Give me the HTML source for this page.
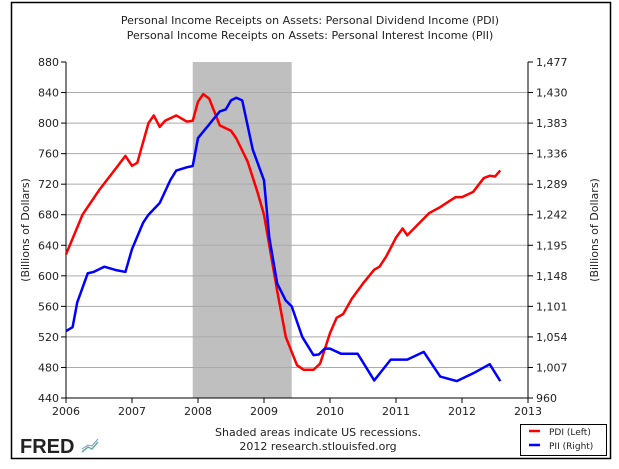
<!DOCTYPE html>
<html><head><meta charset="utf-8"><style>
body{margin:0;background:#fff;}
svg{display:block;font-family:"DejaVu Sans","Liberation Sans",sans-serif;}
</style></head><body>
<svg id="c" width="619" height="469">
<rect x="11.5" y="2.5" width="599" height="456" fill="none" stroke="#000" stroke-width="1.5"/>
<text x="310" y="24" font-size="11" text-anchor="middle" fill="#222">Personal Income Receipts on Assets: Personal Dividend Income (PDI)</text>
<text x="310" y="39" font-size="11" text-anchor="middle" fill="#222">Personal Income Receipts on Assets: Personal Interest Income (PII)</text>
<g id="grid"></g>
<g id="marks"></g>
<text transform="translate(29,230) rotate(-90)" font-size="11" text-anchor="middle" fill="#222">(Billions of Dollars)</text>
<text transform="translate(598,230) rotate(-90)" font-size="11" text-anchor="middle" fill="#222">(Billions of Dollars)</text>
<text x="20" y="453" font-size="20" font-weight="bold" fill="#222" font-family="Liberation Sans,sans-serif">FRED</text>
<polyline points="82,452 88,447 92,449 98,442" fill="none" stroke="#6a9" stroke-width="1.5"/>
<polyline points="82,449 88,445 92,446 98,439" fill="none" stroke="#79c" stroke-width="1"/>
<text x="318" y="436" font-size="11" text-anchor="middle" fill="#222">Shaded areas indicate US recessions.</text>
<text x="318" y="450" font-size="11" text-anchor="middle" fill="#222">2012 research.stlouisfed.org</text>
<g>
<rect x="520.5" y="424.5" width="86" height="31" fill="#fff" stroke="#000"/>
<line x1="529" y1="431" x2="540" y2="431" stroke="#f00" stroke-width="2.5"/>
<text x="549" y="435" font-size="9" fill="#222">PDI (Left)</text>
<line x1="529" y1="445" x2="540" y2="445" stroke="#00f" stroke-width="2.5"/>
<text x="549" y="449" font-size="9" fill="#222">PII (Right)</text>
</g>
</svg>
<script>
const pdiT=[2006.0,2006.25,2006.5,2006.75,2006.9,2007.0,2007.08,2007.25,2007.33,2007.42,2007.5,2007.67,2007.83,2007.92,2008.0,2008.08,2008.17,2008.33,2008.5,2008.58,2008.75,2008.9,2009.0,2009.1,2009.2,2009.33,2009.5,2009.6,2009.75,2009.85,2010.0,2010.1,2010.2,2010.33,2010.5,2010.67,2010.75,2010.85,2011.0,2011.1,2011.17,2011.33,2011.5,2011.67,2011.9,2012.0,2012.17,2012.33,2012.42,2012.5,2012.58];
const pdiV=[628,680,712,740,757,744,748,800,810,795,803,810,802,803,828,838,832,797,790,780,750,710,680,630,580,520,483,477,477,485,525,545,550,570,590,608,612,625,650,662,653,667,682,690,703,703,710,728,731,730,738];
const piiT=[2006.0,2006.1,2006.17,2006.33,2006.42,2006.58,2006.75,2006.9,2007.0,2007.17,2007.25,2007.42,2007.58,2007.67,2007.83,2007.92,2008.0,2008.17,2008.33,2008.42,2008.5,2008.58,2008.67,2008.83,2009.0,2009.08,2009.2,2009.33,2009.42,2009.58,2009.75,2009.83,2009.92,2010.0,2010.17,2010.42,2010.67,2010.92,2011.17,2011.42,2011.67,2011.92,2012.17,2012.42,2012.58];
const piiV=[1063,1069,1107,1152,1154,1162,1157,1154,1189,1230,1242,1260,1295,1310,1315,1317,1360,1381,1401,1404,1418,1422,1418,1342,1295,1207,1136,1110,1101,1054,1026,1027,1036,1036,1028,1028,987,1019,1019,1031,993,986,998,1012,986];
const leftTicks=[440,480,520,560,600,640,680,720,760,800,840,880];
const rightTicks=["960","1,007","1,054","1,101","1,148","1,195","1,242","1,289","1,336","1,383","1,430","1,477"];
const yearTicks=[2006,2007,2008,2009,2010,2011,2012,2013];
const recession=[2007.92,2009.42];
const X0=66,X1=528,Y0=398,Y1=62;
const x=t=>X0+(t-2006)/7*(X1-X0);
const yL=v=>Y0-(v-440)/440*(Y0-Y1);
const yR=v=>Y0-(v-960)/517*(Y0-Y1);
const NS="http://www.w3.org/2000/svg";
const mk=(tag,a,p)=>{const e=document.createElementNS(NS,tag);for(const k in a)e.setAttribute(k,a[k]);p.appendChild(e);return e;};
const g=document.getElementById('grid'),m=document.getElementById('marks');
const rec=mk('rect',{x:x(recession[0]),y:Y1,width:x(recession[1])-x(recession[0]),height:Y0-Y1,fill:'#bfbfbf'},g);


leftTicks.forEach((v,i)=>{
 const y=yL(v);
 if(i>0&&i<leftTicks.length-1){const l=mk('line',{x1:X0,x2:X1,y1:y,y2:y,stroke:'#aaa','stroke-width':1},g);
 
 }
 mk('line',{x1:X0-5,x2:X0,y1:y,y2:y,stroke:'#000'},g);
 mk('line',{x1:X1,x2:X1+5,y1:y,y2:y,stroke:'#000'},g);
 const t=mk('text',{x:X0-7,y:y+4,'font-size':11,'text-anchor':'end',fill:'#222'},g);t.textContent=v;
 
 
 const r=mk('text',{x:X1+8,y:y+4,'font-size':11,fill:'#222'},g);r.textContent=rightTicks[i];
 
 
});
yearTicks.forEach(yr=>{
 const xx=x(yr);
 mk('line',{x1:xx,x2:xx,y1:Y0,y2:Y0+5,stroke:'#000'},g);
 const t=mk('text',{x:xx,y:Y0+17,'font-size':11,'text-anchor':'middle',fill:'#222'},g);t.textContent=yr;
 
 
});
mk('line',{x1:X0,x2:X0,y1:Y1,y2:Y0,stroke:'#000'},g);
mk('line',{x1:X1,x2:X1,y1:Y1,y2:Y0,stroke:'#000'},g);
mk('line',{x1:X0,x2:X1,y1:Y0,y2:Y0,stroke:'#000'},g);
const pdi=mk('polyline',{points:pdiT.map((t,i)=>x(t)+','+yL(pdiV[i])).join(' '),fill:'none',stroke:'#f00','stroke-width':2.5,'stroke-linejoin':'round'},m);


const pii=mk('polyline',{points:piiT.map((t,i)=>x(t)+','+yR(piiV[i])).join(' '),fill:'none',stroke:'#00f','stroke-width':2.5,'stroke-linejoin':'round'},m);


</script>
</body></html>
